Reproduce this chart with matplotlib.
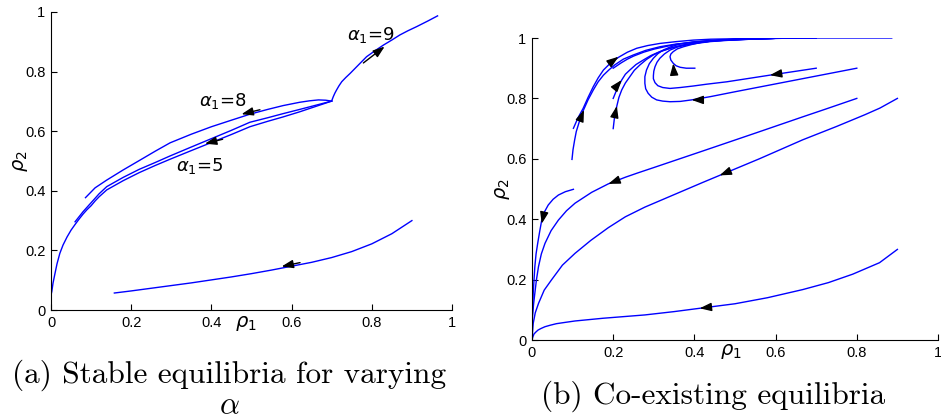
import matplotlib
matplotlib.use('Agg')
import matplotlib.pyplot as plt

# ---- data ----
tick_vals = [0, 0.2, 0.4, 0.6, 0.8, 1]
tick_text = ['0', '0.2', '0.4', '0.6', '0.8', '1']

# panel (a)
a_low_x = [0.158, 0.2, 0.25, 0.3, 0.35, 0.4, 0.45, 0.5, 0.55, 0.6, 0.65, 0.7, 0.75, 0.8, 0.85, 0.9]
a_low_y = [0.057, 0.064, 0.073, 0.082, 0.091, 0.101, 0.111, 0.122, 0.134, 0.147, 0.16, 0.176, 0.196, 0.222, 0.256, 0.3]

a8_x = [0.086, 0.11, 0.139, 0.18, 0.222, 0.26, 0.297, 0.35, 0.4, 0.45, 0.496, 0.54, 0.579, 0.62, 0.645, 0.667, 0.685, 0.7]
a8_y = [0.377, 0.41, 0.436, 0.47, 0.503, 0.533, 0.561, 0.59, 0.615, 0.637, 0.657, 0.673, 0.686, 0.697, 0.702, 0.705, 0.704, 0.701]

a5_x = [0.06, 0.08, 0.1, 0.12, 0.139, 0.18, 0.22, 0.26, 0.297, 0.35, 0.4, 0.45, 0.496, 0.54, 0.579, 0.62, 0.66, 0.7]
a5_y = [0.296, 0.33, 0.36, 0.39, 0.414, 0.445, 0.472, 0.495, 0.517, 0.547, 0.575, 0.603, 0.63, 0.645, 0.659, 0.673, 0.687, 0.701]

a0_x = [0.0, 0.002, 0.005, 0.01, 0.015, 0.022, 0.03, 0.04, 0.05, 0.06, 0.07, 0.08, 0.09, 0.1, 0.11, 0.12, 0.139,
        0.18, 0.22, 0.26, 0.297, 0.35, 0.4, 0.45, 0.496, 0.54, 0.579, 0.62, 0.66, 0.7]
a0_y = [0.05, 0.062, 0.09, 0.123, 0.155, 0.19, 0.218, 0.245, 0.268, 0.287, 0.305, 0.322, 0.337, 0.35, 0.366, 0.38, 0.403,
        0.434, 0.461, 0.485, 0.506, 0.535, 0.562, 0.589, 0.615, 0.633, 0.648, 0.665, 0.683, 0.701]

a9_x = [0.7, 0.704, 0.708, 0.712, 0.718, 0.725, 0.735, 0.746, 0.765, 0.787, 0.808, 0.829, 0.85, 0.87, 0.89, 0.912, 0.94, 0.964]
a9_y = [0.702, 0.716, 0.728, 0.738, 0.752, 0.766, 0.78, 0.794, 0.82, 0.85, 0.87, 0.889, 0.906, 0.923, 0.937, 0.951, 0.97, 0.987]

a_arrow_head = [(0.832, 0.884), (0.475, 0.657), (0.384, 0.558), (0.575, 0.146)]
a_arrow_tail = [(0.779, 0.829), (0.521, 0.672), (0.428, 0.573), (0.621, 0.159)]

a_labels = [r'$\alpha_1$=9', r'$\alpha_1$=8', r'$\alpha_1$=5']
a_label_x = [0.737, 0.369, 0.312]
a_label_y = [0.907, 0.685, 0.468]

# panel (b)
b1_x = [0, 0.002, 0.005, 0.01, 0.015, 0.022, 0.032, 0.045, 0.06, 0.08, 0.106, 0.175, 0.278, 0.35, 0.413,
        0.5, 0.58, 0.667, 0.73, 0.79, 0.856, 0.9]
b1_y = [0, 0.01, 0.02, 0.027, 0.033, 0.038, 0.044, 0.049, 0.054, 0.058, 0.063, 0.072, 0.083, 0.094, 0.105,
        0.12, 0.14, 0.167, 0.19, 0.218, 0.256, 0.3]

b2_x = [0, 0.001, 0.003, 0.008, 0.016, 0.03, 0.048, 0.075, 0.106, 0.145, 0.188, 0.23, 0.278, 0.339, 0.421,
        0.462, 0.56, 0.667, 0.75, 0.82, 0.857, 0.9]
b2_y = [0, 0.02, 0.055, 0.09, 0.121, 0.165, 0.199, 0.248, 0.287, 0.33, 0.372, 0.408, 0.44, 0.475, 0.522,
        0.545, 0.6, 0.663, 0.707, 0.746, 0.768, 0.8]

b3_x = [0, 0.001, 0.004, 0.007, 0.011, 0.016, 0.023, 0.032, 0.047, 0.065, 0.085, 0.106, 0.147, 0.188,
        0.23, 0.26, 0.3, 0.421, 0.55, 0.667, 0.722, 0.8]
b3_y = [0, 0.077, 0.12, 0.155, 0.2, 0.243, 0.285, 0.32, 0.362, 0.397, 0.428, 0.453, 0.489, 0.517,
        0.539, 0.553, 0.571, 0.626, 0.685, 0.739, 0.764, 0.8]

b4_x = [0, 0.001, 0.003, 0.005, 0.007, 0.01, 0.014, 0.019, 0.024, 0.031, 0.04, 0.052, 0.065, 0.082, 0.102]
b4_y = [0, 0.08, 0.155, 0.2, 0.243, 0.285, 0.32, 0.36, 0.397, 0.425, 0.447, 0.466, 0.48, 0.491, 0.499]

c1_x = [0.102, 0.113, 0.126, 0.138, 0.151, 0.163, 0.176, 0.194, 0.213, 0.235, 0.258, 0.285, 0.315, 0.355,
        0.397, 0.44, 0.48, 0.55, 0.65, 0.886]
c1_y = [0.701, 0.735, 0.767, 0.803, 0.839, 0.868, 0.894, 0.918, 0.936, 0.953, 0.966, 0.975, 0.982, 0.988,
        0.993, 0.996, 0.997, 0.999, 1.0, 1.0]

c2_x = [0.0985, 0.101, 0.105, 0.109, 0.117, 0.126, 0.138, 0.151, 0.163, 0.176, 0.19, 0.204, 0.225, 0.25,
        0.28, 0.315, 0.355, 0.397, 0.44, 0.48, 0.6]
c2_y = [0.598, 0.63, 0.662, 0.69, 0.725, 0.759, 0.795, 0.828, 0.855, 0.877, 0.895, 0.911, 0.93, 0.944,
        0.959, 0.971, 0.98, 0.986, 0.99, 0.993, 0.999]

c3_x = [0.2, 0.203, 0.209, 0.214, 0.221, 0.23, 0.241, 0.252, 0.266, 0.282, 0.299, 0.318, 0.34, 0.367,
        0.397, 0.43, 0.46, 0.6]
c3_y = [0.7, 0.735, 0.775, 0.803, 0.828, 0.851, 0.872, 0.893, 0.911, 0.929, 0.944, 0.956, 0.966, 0.975,
        0.982, 0.988, 0.993, 0.999]

c4_x = [0.2, 0.21, 0.221, 0.23, 0.241, 0.256, 0.274, 0.293, 0.315, 0.343, 0.373, 0.405, 0.44, 0.5, 0.6]
c4_y = [0.8, 0.833, 0.861, 0.88, 0.894, 0.912, 0.927, 0.942, 0.955, 0.967, 0.977, 0.984, 0.99, 0.995, 0.999]

c8_x = [0.2, 0.21, 0.22, 0.235, 0.25, 0.275, 0.3, 0.33, 0.36, 0.4, 0.43, 0.5, 0.6]
c8_y = [0.9, 0.909, 0.918, 0.93, 0.94, 0.953, 0.963, 0.972, 0.98, 0.986, 0.99, 0.996, 0.999]

c5_x = [0.8, 0.7, 0.6, 0.5, 0.44, 0.393, 0.365, 0.34, 0.322, 0.307, 0.295, 0.286, 0.28, 0.278, 0.278,
        0.282, 0.289, 0.299, 0.31, 0.323, 0.342, 0.365, 0.395, 0.43, 0.47, 0.52, 0.6, 0.7]
c5_y = [0.9, 0.874, 0.848, 0.822, 0.806, 0.795, 0.79, 0.789, 0.791, 0.795, 0.804, 0.817, 0.832, 0.85, 0.872,
        0.894, 0.915, 0.933, 0.948, 0.96, 0.971, 0.98, 0.987, 0.991, 0.994, 0.996, 0.999, 1.0]

c6_x = [0.7, 0.586, 0.48, 0.43, 0.397, 0.365, 0.34, 0.322, 0.31, 0.303, 0.299, 0.299, 0.3, 0.303, 0.308,
        0.315, 0.326, 0.34, 0.358, 0.381, 0.41, 0.438, 0.48, 0.52, 0.6, 0.7]
c6_y = [0.9, 0.877, 0.855, 0.847, 0.841, 0.836, 0.833, 0.836, 0.842, 0.852, 0.865, 0.875, 0.89, 0.905, 0.92,
        0.933, 0.947, 0.96, 0.97, 0.977, 0.983, 0.988, 0.992, 0.995, 0.999, 1.0]

c7_x = [0.401, 0.38, 0.365, 0.355, 0.348, 0.342, 0.34, 0.342, 0.348, 0.358, 0.373, 0.392, 0.414, 0.445,
        0.48, 0.55, 0.65]
c7_y = [0.9, 0.9, 0.903, 0.908, 0.916, 0.927, 0.938, 0.947, 0.955, 0.964, 0.971, 0.978, 0.985, 0.99,
        0.993, 0.997, 1.0]

b_arrow_head = [(0.413, 0.105), (0.462, 0.545), (0.188, 0.517), (0.024, 0.385),
                (0.213, 0.938), (0.128, 0.762), (0.209, 0.775), (0.221, 0.861),
                (0.393, 0.795), (0.586, 0.877), (0.348, 0.916)]
b_arrow_tail = [(0.433, 0.108), (0.48, 0.555), (0.206, 0.526), (0.028, 0.41),
                (0.197, 0.922), (0.121, 0.738), (0.205, 0.75), (0.21, 0.843),
                (0.413, 0.795), (0.606, 0.881), (0.349, 0.898)]

captions = ['(a) Stable equilibria for varying', '(b) Co-existing equilibria']

BLUE = '#0000ff'
TICK_FONT = 'Liberation Sans'


def style_axes(ax):
    ax.set_xlim(0, 1)
    ax.set_ylim(0, 1)
    ax.spines['top'].set_visible(False)
    ax.spines['right'].set_visible(False)
    ax.set_xticks(tick_vals)
    ax.set_xticklabels(tick_text)
    ax.set_yticks(tick_vals)
    ax.set_yticklabels(tick_text)
    ax.tick_params(direction='in', length=4, width=0.8, labelsize=10.5, pad=4)
    for lab in ax.get_xticklabels() + ax.get_yticklabels():
        lab.set_family(TICK_FONT)
    ax.set_xlabel(r'$\rho_1$', fontsize=14)
    ax.set_ylabel(r'$\rho_2$', fontsize=14)


def draw_arrows(ax, heads, tails):
    for h, t in zip(heads, tails):
        ax.annotate('', xy=h, xytext=t,
                    arrowprops=dict(arrowstyle='-|>,head_length=0.7,head_width=0.25',
                                    color='k', lw=1.0, shrinkA=0, shrinkB=0))


fig = plt.figure(figsize=(9.41, 4.2), dpi=100)

# panel (a)
ax_a = fig.add_axes([51 / 941, 110 / 420, 401 / 941, 298 / 420])
for xs, ys in [(a_low_x, a_low_y), (a8_x, a8_y), (a5_x, a5_y), (a0_x, a0_y), (a9_x, a9_y)]:
    ax_a.plot(xs, ys, color=BLUE, lw=1.0)
draw_arrows(ax_a, a_arrow_head, a_arrow_tail)
for s, x, y in zip(a_labels, a_label_x, a_label_y):
    ax_a.text(x, y, s, fontsize=13, ha='left', va='baseline')
style_axes(ax_a)
ax_a.xaxis.set_label_coords(0.487, -0.015)
ax_a.yaxis.set_label_coords(-0.052, 0.5)

# panel (b)
ax_b = fig.add_axes([532 / 941, 80 / 420, 406 / 941, 302 / 420])
for xs, ys in [(b1_x, b1_y), (b2_x, b2_y), (b3_x, b3_y), (b4_x, b4_y),
               (c1_x, c1_y), (c2_x, c2_y), (c3_x, c3_y), (c4_x, c4_y),
               (c8_x, c8_y), (c5_x, c5_y), (c6_x, c6_y), (c7_x, c7_y)]:
    ax_b.plot(xs, ys, color=BLUE, lw=1.0)
draw_arrows(ax_b, b_arrow_head, b_arrow_tail)
style_axes(ax_b)
ax_b.xaxis.set_label_coords(0.49, -0.005)
ax_b.yaxis.set_label_coords(-0.05, 0.5)

# captions
fig.text(229 / 941, 1 - 383 / 420, captions[0], family='cmr10', fontsize=22.5,
         ha='center', va='baseline')
fig.text(229 / 941, 1 - 414 / 420, r'$\alpha$', math_fontfamily='cm', fontsize=22.5,
         ha='center', va='baseline')
fig.text(713 / 941, 1 - 404 / 420, captions[1], family='cmr10', fontsize=22.5,
         ha='center', va='baseline')

fig.savefig('out.png', dpi=100)
